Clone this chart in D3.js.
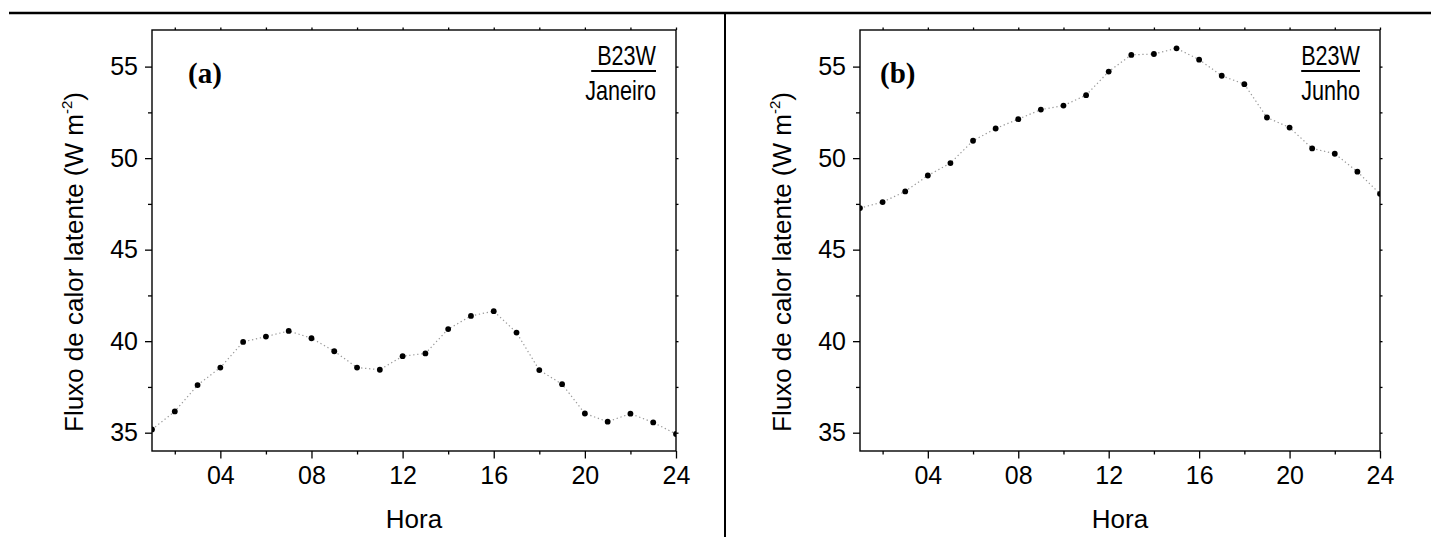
<!DOCTYPE html>
<html>
<head>
<meta charset="utf-8">
<script src="https://cdn.jsdelivr.net/npm/d3@7"></script>
<style>
  html, body { margin: 0; padding: 0; background: #fff; }
  svg { display: block; }
</style>
</head>
<body>
<svg id="chart" width="1431" height="537"></svg>
<script>
// hourly means
const hours = [1, 2, 3, 4, 5, 6, 7, 8, 9, 10, 11, 12, 13, 14, 15, 16, 17, 18, 19, 20, 21, 22, 23, 24];
const janeiro = [35.18, 36.16, 37.6, 38.56, 39.96, 40.25, 40.56, 40.16, 39.45, 38.56, 38.44, 39.18,
                 39.33, 40.66, 41.38, 41.64, 40.47, 38.42, 37.65, 36.05, 35.6, 36.04, 35.56, 34.93];
const junho = [47.27, 47.6, 48.18, 49.05, 49.73, 50.95, 51.62, 52.13, 52.65, 52.87, 53.44, 54.73,
               55.64, 55.69, 56.0, 55.38, 54.5, 54.04, 52.22, 51.67, 50.53, 50.24, 49.26, 48.05];

const xMajor = [4, 8, 12, 16, 20, 24];
const xMinor = [2, 6, 10, 14, 18, 22];
const yMajor = [35, 40, 45, 50, 55];
const yMinor = [37.5, 42.5, 47.5, 52.5];
const xDomain = [1, 24];
const yDomain = [34, 57];

const panels = [
  { id: "a", tag: "(a)", station: "B23W", month: "Janeiro", values: janeiro, left: 152, right: 676, tagX: 36, lead: true },
  { id: "b", tag: "(b)", station: "B23W", month: "Junho", values: junho, left: 860, right: 1380, tagX: 20, lead: false }
];

const plotTop = 30, plotBottom = 451;
const sans = "'Liberation Sans', Arial, Helvetica, sans-serif";
const squeeze = 0.8; // the box labels use a condensed face

const svg = d3.select("#chart");

// frame rules of the page
svg.append("line").attr("x1", 9).attr("x2", 1431).attr("y1", 13).attr("y2", 13)
  .attr("stroke", "#000").attr("stroke-width", 2.5);
svg.append("line").attr("x1", 725).attr("x2", 725).attr("y1", 13).attr("y2", 537)
  .attr("stroke", "#000").attr("stroke-width", 2);

function styleAxis(g) {
  g.select(".domain").remove();
  g.selectAll("line").attr("stroke", "#000").attr("stroke-width", 1.3);
  g.selectAll("text").attr("font-family", sans).attr("font-size", 25).attr("fill", "#000");
}

panels.forEach((p) => {
  const x = d3.scaleLinear().domain(xDomain).range([p.left, p.right]);
  const y = d3.scaleLinear().domain(yDomain).range([plotBottom, plotTop]);
  const g = svg.append("g").attr("class", "panel-" + p.id);

  // bottom axis
  g.append("g").attr("transform", `translate(0,${plotBottom})`)
    .call(d3.axisBottom(x).tickValues(xMinor).tickSize(3.5).tickFormat(""))
    .call(styleAxis);
  g.append("g").attr("transform", `translate(0,${plotBottom})`)
    .call(d3.axisBottom(x).tickValues(xMajor).tickSize(7.5).tickPadding(8).tickFormat(d3.format("02d")))
    .call(styleAxis);

  // left axis
  g.append("g").attr("transform", `translate(${p.left},0)`)
    .call(d3.axisLeft(y).tickValues(yMinor).tickSize(4).tickFormat(""))
    .call(styleAxis);
  g.append("g").attr("transform", `translate(${p.left},0)`)
    .call(d3.axisLeft(y).tickValues(yMajor).tickSize(7).tickPadding(7))
    .call(styleAxis);

  // mirrored small ticks
  g.append("g").attr("transform", `translate(0,${plotTop})`)
    .call(d3.axisTop(x).tickValues(xMinor.concat(xMajor)).tickSize(2.5).tickFormat(""))
    .call(styleAxis);
  g.append("g").attr("transform", `translate(${p.right},0)`)
    .call(d3.axisRight(y).tickValues(yMinor.concat(yMajor)).tickSize(2.5).tickFormat(""))
    .call(styleAxis);

  // plot frame
  g.append("rect")
    .attr("x", p.left).attr("y", plotTop)
    .attr("width", p.right - p.left).attr("height", plotBottom - plotTop)
    .attr("fill", "none").attr("stroke", "#000").attr("stroke-width", 1.4);

  g.append("clipPath").attr("id", "clip-" + p.id)
    .append("rect")
    .attr("x", p.left).attr("y", plotTop)
    .attr("width", p.right - p.left).attr("height", plotBottom - plotTop);

  const series = hours.map((h, i) => ({ h: h, v: p.values[i] }));
  const plot = g.append("g").attr("clip-path", `url(#clip-${p.id})`);

  plot.append("path")
    .datum(series)
    .attr("fill", "none")
    .attr("stroke", "#999")
    .attr("stroke-width", 1.2)
    .attr("stroke-dasharray", "1.3,2.7")
    .attr("d", d3.line().x((d) => x(d.h)).y((d) => y(d.v)));

  plot.selectAll("circle.pt").data(series).enter().append("circle")
    .attr("class", "pt")
    .attr("cx", (d) => x(d.h))
    .attr("cy", (d) => y(d.v))
    .attr("r", 2.9)
    .attr("fill", "#000");

  // axis titles
  g.append("text")
    .attr("x", (p.left + p.right) / 2).attr("y", 528)
    .attr("text-anchor", "middle")
    .attr("font-family", sans).attr("font-size", 26)
    .text("Hora");

  const yl = g.append("text")
    .attr("transform", `translate(${p.left - 69},262) rotate(-90)`)
    .attr("text-anchor", "middle")
    .attr("font-family", sans).attr("font-size", 26);
  yl.append("tspan").text("Fluxo de calor latente (W m");
  yl.append("tspan").attr("font-size", 15).attr("dy", -11).text("-2");
  yl.append("tspan").attr("dy", 11).text(")");

  // panel tag
  g.append("text")
    .attr("x", p.left + p.tagX).attr("y", 83)
    .attr("font-family", "'Liberation Serif', 'Times New Roman', serif")
    .attr("font-weight", "bold").attr("font-size", 29)
    .text(p.tag);

  // station / month box
  const lx = p.right - 20;
  const st = g.append("text")
    .attr("transform", `translate(${lx},65) scale(${squeeze},1)`)
    .attr("text-anchor", "end")
    .attr("font-family", sans).attr("font-size", 27)
    .text(p.station);
  const w = st.node().getComputedTextLength() * squeeze;
  g.append("line")
    .attr("x1", lx - w - (p.lead ? 6 : 0)).attr("x2", lx)
    .attr("y1", 71).attr("y2", 71)
    .attr("stroke", "#000").attr("stroke-width", 2);
  g.append("text")
    .attr("transform", `translate(${lx},100) scale(${squeeze},1)`)
    .attr("text-anchor", "end")
    .attr("font-family", sans).attr("font-size", 27)
    .text(p.month);
});
</script>
</body>
</html>
